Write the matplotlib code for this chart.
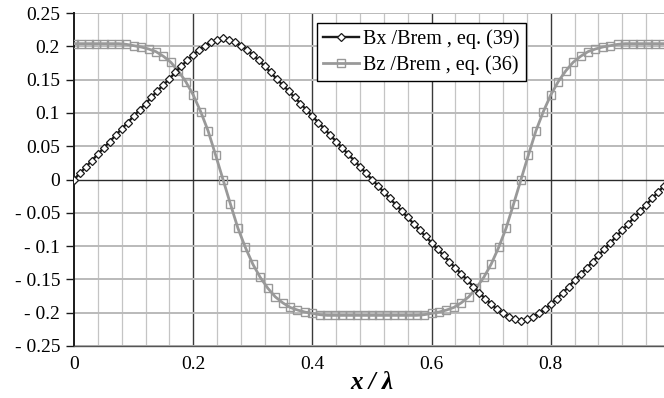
import numpy as np
import matplotlib
matplotlib.use("Agg")
import matplotlib.pyplot as plt

plt.rcParams['font.family'] = ['Liberation Serif', 'DejaVu Serif']

# Bx/Brem sampled every 0.01 in x/lambda
bx_x = [i / 100 for i in range(101)]
bx_vals = [
    0.0, 0.0095, 0.019, 0.0285, 0.038, 0.0475, 0.057, 0.0665, 0.076, 0.0855,
    0.095, 0.1045, 0.114, 0.1235, 0.133, 0.142, 0.151, 0.161, 0.170, 0.179,
    0.187, 0.195, 0.201, 0.206, 0.210, 0.212, 0.210, 0.206, 0.201, 0.195,
    0.187, 0.179, 0.170, 0.161, 0.151, 0.142, 0.133, 0.1235, 0.114, 0.1045,
    0.095, 0.0855, 0.076, 0.0665, 0.057, 0.0475, 0.038, 0.0285, 0.019, 0.0095,
    0.0, -0.0095, -0.019, -0.0285, -0.038, -0.0475, -0.057, -0.0665, -0.076, -0.0855,
    -0.095, -0.1045, -0.114, -0.1235, -0.133, -0.142, -0.151, -0.161, -0.170, -0.179,
    -0.187, -0.195, -0.201, -0.206, -0.210, -0.212, -0.210, -0.206, -0.201, -0.195,
    -0.187, -0.179, -0.170, -0.161, -0.151, -0.142, -0.133, -0.1235, -0.114, -0.1045,
    -0.095, -0.0855, -0.076, -0.0665, -0.057, -0.0475, -0.038, -0.0285, -0.019, -0.0095,
    0.0,
]

# Bz/Brem sampled every 0.0125 in x/lambda
bz_x = [i * 0.0125 for i in range(81)]
bz_vals = [
    0.204, 0.204, 0.204, 0.204, 0.204, 0.204, 0.204, 0.203, 0.201, 0.199,
    0.196, 0.192, 0.185, 0.176, 0.163, 0.147, 0.127, 0.102, 0.073, 0.037,
    0.0, -0.037, -0.073, -0.102, -0.127, -0.147, -0.163, -0.176, -0.185, -0.192,
    -0.196, -0.199, -0.201, -0.203, -0.204, -0.204, -0.204, -0.204, -0.204, -0.204,
    -0.204, -0.204, -0.204, -0.204, -0.204, -0.204, -0.204, -0.203, -0.201, -0.199,
    -0.196, -0.192, -0.185, -0.176, -0.163, -0.147, -0.127, -0.102, -0.073, -0.037,
    0.0, 0.037, 0.073, 0.102, 0.127, 0.147, 0.163, 0.176, 0.185, 0.192,
    0.196, 0.199, 0.201, 0.203, 0.204, 0.204, 0.204, 0.204, 0.204, 0.204,
    0.204,
]

series_labels = ["Bx /Brem , eq. (39)", "Bz /Brem , eq. (36)"]
y_ticks = [0.25, 0.2, 0.15, 0.1, 0.05, 0, -0.05, -0.1, -0.15, -0.2, -0.25]
y_ticklabels = ["0.25", "0.2", "0.15", "0.1", "0.05", "0",
                "- 0.05", "- 0.1", "- 0.15", "- 0.2", "- 0.25"]
x_ticks = [0, 0.2, 0.4, 0.6, 0.8, 1.0]
x_ticklabels = ["0", "0.2", "0.4", "0.6", "0.8", "1"]

bx_style = {'color': '#1a1a1a', 'linewidth': 1.7, 'marker': 'D', 'markersize': 4.3,
            'markerfacecolor': 'white', 'markeredgecolor': '#1a1a1a', 'markeredgewidth': 0.9}
bz_style = {'color': '#999999', 'linewidth': 2.0, 'marker': 's', 'markersize': 5.6,
            'markerfacecolor': 'none', 'markeredgecolor': '#999999', 'markeredgewidth': 1.0}


def main():
    fig = plt.figure(figsize=(6.64, 3.98), dpi=100)
    ax = fig.add_axes([74 / 664, 52 / 398, 596 / 664, 333 / 398])
    ax.set_xlim(0, 1)
    ax.set_ylim(-0.25, 0.25)

    # grid: light every 0.04 / 0.05, dark at the 0.2 verticals and y = 0
    for xv in np.arange(0.04, 1.0, 0.04):
        major = abs(xv / 0.2 - round(xv / 0.2)) < 1e-6
        ax.axvline(xv, color='#3a3a3a' if major else '#c4c4c4',
                   lw=1.0 if major else 0.9, zorder=1)
    for yv in y_ticks:
        if yv == 0:
            ax.axhline(yv, color='#2a2a2a', lw=1.0, zorder=1)
        else:
            ax.axhline(yv, color='#bababa', lw=1.4, zorder=1)

    lz, = ax.plot(bz_x, bz_vals, zorder=3, **bz_style)
    lx, = ax.plot(bx_x, bx_vals, zorder=4, **bx_style)

    for side in ['top', 'right']:
        ax.spines[side].set_visible(False)
    ax.spines['left'].set_color('#1a1a1a')
    ax.spines['left'].set_linewidth(1.4)
    ax.spines['bottom'].set_color('#555555')
    ax.spines['bottom'].set_linewidth(1.0)

    ax.set_yticks(y_ticks)
    ax.set_yticklabels(y_ticklabels, fontsize=14)
    ax.set_xticks(x_ticks)
    ax.set_xticklabels(x_ticklabels, fontsize=14)
    ax.tick_params(axis='y', length=6, width=1.0, color='#1a1a1a', pad=4)
    ax.tick_params(axis='x', length=0, pad=7)

    ax.set_xlabel("x / λ", fontsize=18, fontweight='bold', style='italic', labelpad=-1)

    leg = ax.legend([lx, lz], series_labels, loc='upper left',
                    bbox_to_anchor=(317 / 664, 1 - 23 / 398), bbox_transform=fig.transFigure,
                    borderaxespad=0, fontsize=14.5, fancybox=False, framealpha=1,
                    edgecolor='black', handlelength=1.8, handletextpad=0.2,
                    labelspacing=0.3, borderpad=0.3)
    leg.get_frame().set_linewidth(1.0)
    leg.set_zorder(10)

    fig.savefig("out.png", dpi=100)
    plt.close(fig)


if __name__ == '__main__':
    main()
